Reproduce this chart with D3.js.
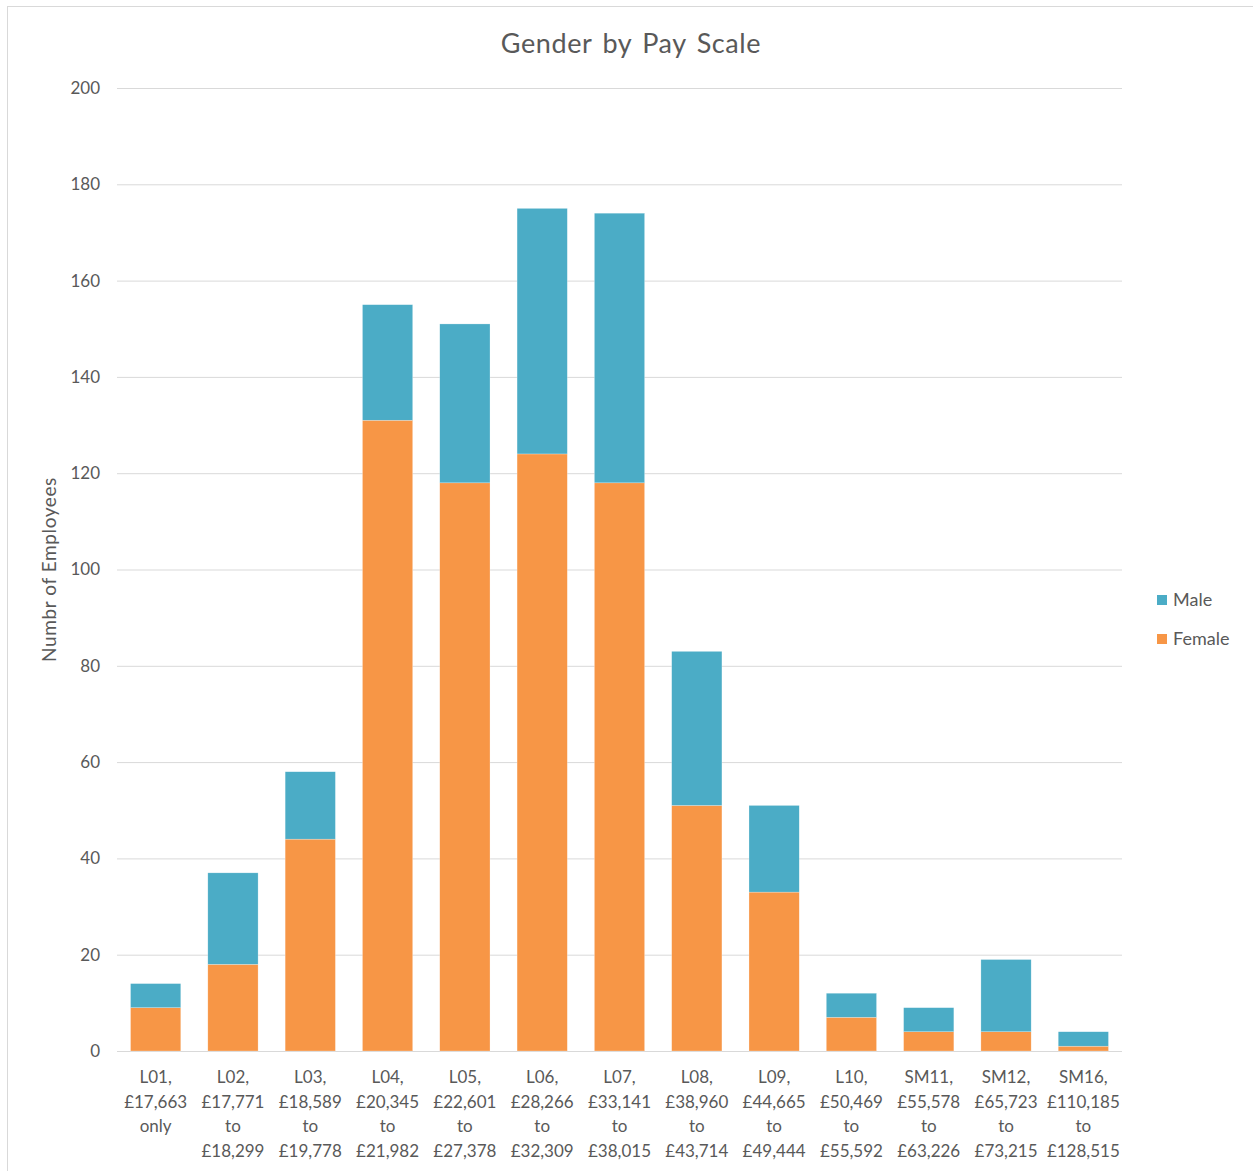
<!DOCTYPE html>
<html>
<head>
<meta charset="utf-8">
<script src="https://cdn.jsdelivr.net/npm/d3@7"></script>
<style>
  body { margin: 0; background: #fff; }
  text { font-family: Lato, "Open Sans", sans-serif; fill: #595959; }
  .grid line { stroke: #d9d9d9; }
  .grid path { display: none; }
</style>
</head>
<body>
<div id="chart"></div>
<script>
// pay scale bands (split over lines for the axis)
var categories = [
  ["L01,", "£17,663", "only"],
  ["L02,", "£17,771", "to", "£18,299"],
  ["L03,", "£18,589", "to", "£19,778"],
  ["L04,", "£20,345", "to", "£21,982"],
  ["L05,", "£22,601", "to", "£27,378"],
  ["L06,", "£28,266", "to", "£32,309"],
  ["L07,", "£33,141", "to", "£38,015"],
  ["L08,", "£38,960", "to", "£43,714"],
  ["L09,", "£44,665", "to", "£49,444"],
  ["L10,", "£50,469", "to", "£55,592"],
  ["SM11,", "£55,578", "to", "£63,226"],
  ["SM12,", "£65,723", "to", "£73,215"],
  ["SM16,", "£110,185", "to", "£128,515"]
];

var female = [9, 18, 44, 131, 118, 124, 118, 51, 33, 7, 4, 4, 1];
var male   = [5, 19, 14, 24, 33, 51, 56, 32, 18, 5, 5, 15, 3];

var yTicks = [0, 20, 40, 60, 80, 100, 120, 140, 160, 180, 200];

var W = 1253, H = 1171;
var margin = {top: 88, right: 131, bottom: 120, left: 117};
var width = W - margin.left - margin.right,
    height = H - margin.top - margin.bottom;

var rows = categories.map(function(c, i) {
  return {key: i, Female: female[i], Male: male[i]};
});

var stack = d3.stack().keys(["Female", "Male"])(rows);

var x = d3.scaleBand()
  .domain(d3.range(categories.length))
  .range([0, width])
  .paddingInner(0.35)
  .paddingOuter(0.175);

var y = d3.scaleLinear().domain([0, 200]).range([height, 0]);

var color = d3.scaleOrdinal()
  .domain(["Female", "Male"])
  .range(["#f79646", "#4bacc6"]);

var svg = d3.select("#chart").append("svg")
  .attr("width", W)
  .attr("height", H);

// outer frame
svg.append("rect")
  .attr("x", 7.5).attr("y", 6.5)
  .attr("width", W).attr("height", H)
  .attr("fill", "none")
  .attr("stroke", "#d9d9d9");

var g = svg.append("g")
  .attr("transform", "translate(" + margin.left + "," + margin.top + ")");

// gridlines
g.append("g")
  .attr("class", "grid")
  .call(d3.axisLeft(y).tickValues(yTicks).tickSize(-width).tickFormat(""))
  .selectAll("line").attr("stroke", "#d9d9d9");

// y tick labels
g.append("g")
  .selectAll("text")
  .data(yTicks)
  .enter().append("text")
  .attr("x", -17)
  .attr("y", function(d) { return y(d); })
  .attr("dy", "0.35em")
  .attr("text-anchor", "end")
  .style("font-size", "17px")
  .text(function(d) { return d; });

// bars
g.selectAll(".series")
  .data(stack)
  .enter().append("g")
  .attr("class", "series")
  .attr("fill", function(d) { return color(d.key); })
  .selectAll("rect")
  .data(function(d) { return d; })
  .enter().append("rect")
  .attr("x", function(d, i) { return x(i); })
  .attr("width", x.bandwidth())
  .attr("y", function(d) { return y(d[1]); })
  .attr("height", function(d) { return y(d[0]) - y(d[1]); })
  .attr("stroke", "#fff")
  .attr("stroke-opacity", 0.5)
  .attr("stroke-width", 0.5);

// x labels
var xl = g.append("g")
  .attr("transform", "translate(0," + height + ")")
  .selectAll("text")
  .data(categories)
  .enter().append("text")
  .attr("text-anchor", "middle")
  .attr("x", function(d, i) { return x(i) + x.bandwidth() / 2; })
  .attr("y", 32)
  .style("font-size", "17px");

xl.selectAll("tspan")
  .data(function(d) { return d; })
  .enter().append("tspan")
  .attr("x", function() { return d3.select(this.parentNode).attr("x"); })
  .attr("dy", function(d, i) { return i === 0 ? 0 : 24.5; })
  .text(function(d) { return d; });

// title
svg.append("text")
  .attr("x", 631)
  .attr("y", 53)
  .attr("text-anchor", "middle")
  .style("font-size", "27px")
  .style("letter-spacing", "0.6px")
  .style("word-spacing", "3px")
  .text("Gender by Pay Scale");

// y axis title
svg.append("text")
  .attr("transform", "translate(56," + (margin.top + height / 2) + ") rotate(-90)")
  .attr("text-anchor", "middle")
  .style("font-size", "19px")
  .style("letter-spacing", "0.6px")
  .text("Numbr of Employees");

// legend
var legend = svg.append("g")
  .attr("transform", "translate(1157,600)")
  .selectAll("g")
  .data(["Male", "Female"])
  .enter().append("g")
  .attr("transform", function(d, i) { return "translate(0," + (i * 39) + ")"; });

legend.append("rect")
  .attr("x", 0).attr("y", -5)
  .attr("width", 10).attr("height", 10)
  .attr("fill", function(d) { return color(d); });

legend.append("text")
  .attr("x", 16)
  .attr("dy", "0.35em")
  .style("font-size", "18px")
  .text(function(d) { return d; });
</script>
</body>
</html>
